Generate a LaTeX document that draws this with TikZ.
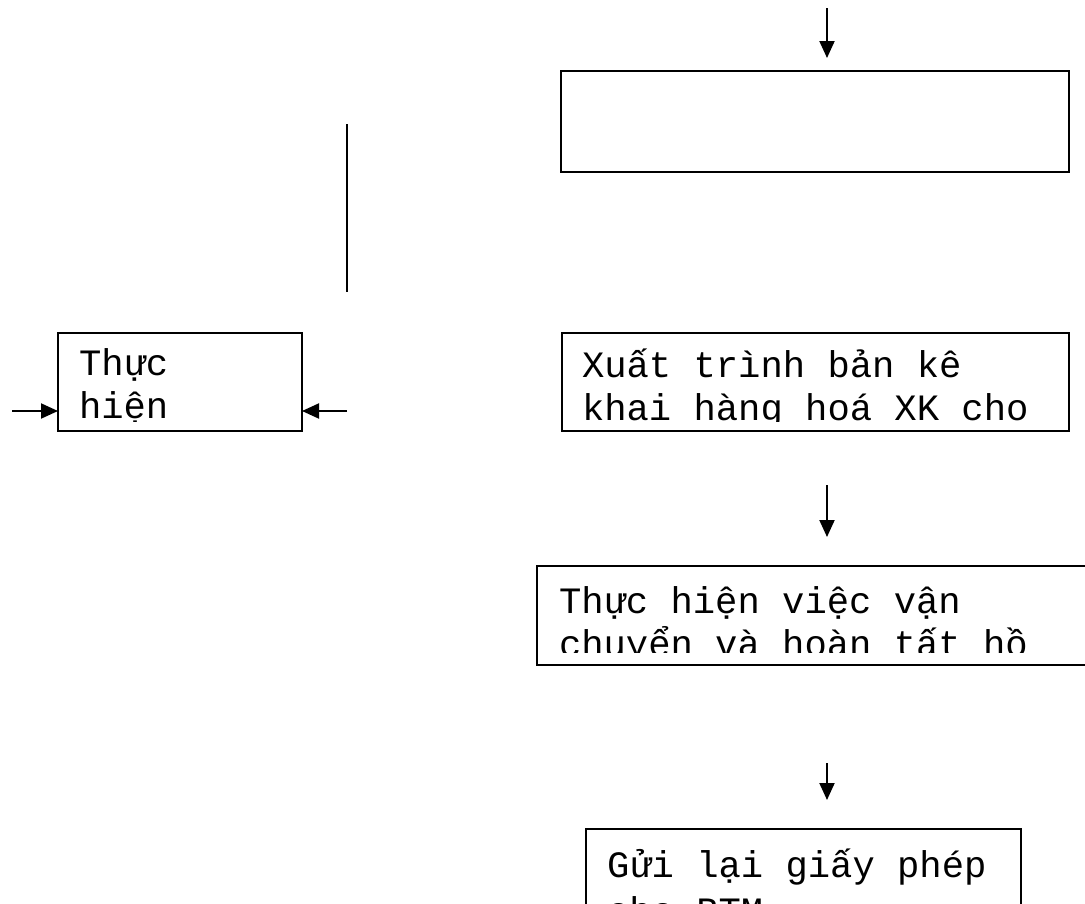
\documentclass[tikz,border=0pt]{standalone}
\usepackage{fontspec}
\newfontfamily\monofont{Liberation Mono}
\usetikzlibrary{arrows.meta,fit}
\begin{document}
\begin{tikzpicture}[x=0.75pt,y=-0.75pt,
  box/.style={draw,line width=1.5pt,inner sep=0pt,outer sep=0pt},
  txt/.style={anchor=base west,inner sep=0pt,outer sep=0pt,font=\monofont\fontsize{27.9pt}{32pt}\selectfont},
  arr/.style={line width=1.5pt,-{Triangle[length=12.75pt,width=11.25pt]}},
  ln/.style={line width=1.5pt}]
\useasboundingbox (0,0) rectangle (1085,903);
\clip (0,0) rectangle (1085,903);
% boxes
\node[box,fit={(561,71) (1069,172)}] (b1) {};
\node[box,fit={(58,333) (302,431)}] (bL) {};
\node[box,fit={(562,333) (1069,431)}] (b2) {};
\node[box,fit={(537,566) (1094,665)}] (b3) {};
\node[box,fit={(586,829) (1021,935)}] (b4) {};
% texts (clipped inside boxes)
\begin{scope}
  \clip (bL.north west) rectangle ([yshift=7.5pt]bL.south east);
  \node[txt] (tL1) at (79,375) {Thực};
  \node[txt] (tL2) at (79,418) {hiện};
\end{scope}
\begin{scope}
  \clip (b2.north west) rectangle ([yshift=7pt]b2.south east);
  \node[txt] (t21) at (582,377) {Xuất trình bản kê};
  \node[txt] (t22) at (582,420) {khai hàng hoá XK cho};
\end{scope}
\begin{scope}
  \clip (b3.north west) rectangle ([yshift=9.75pt]b3.south east);
  \node[txt] (t31) at (559,613) {Thực hiện việc vận};
  \node[txt] (t32) at (559,656) {chuyển và hoàn tất hồ};
\end{scope}
\begin{scope}
  \clip (b4.north west) rectangle (b4.south east);
  \node[txt] (t41) at (607,877) {Gửi lại giấy phép};
  \node[txt] (t42) at (607,923) {cho BTM};
\end{scope}
% connectors
\coordinate (a0s) at (827,8);
\coordinate (a0e) at (827,58);
\draw[arr] (a0s) -- (a0e);
\coordinate (vl1) at (347,124);
\coordinate (vl2) at (347,292);
\draw[ln] (vl1) -- (vl2);
\coordinate (inL) at (12,411);
\draw[arr] (inL) -- (inL -| bL.west);
\coordinate (inR) at (347,411);
\draw[arr] (inR) -- (inR -| bL.east);
\coordinate (a2s) at (827,485);
\coordinate (a2e) at (827,537);
\draw[arr] (a2s) -- (a2e);
\coordinate (a3s) at (827,763);
\coordinate (a3e) at (827,800);
\draw[arr] (a3s) -- (a3e);
\end{tikzpicture}
\end{document}
